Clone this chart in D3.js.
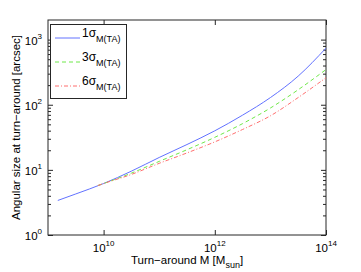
<!DOCTYPE html>
<html>
<head>
<meta charset="utf-8">
<script src="https://cdn.jsdelivr.net/npm/d3@7"></script>
<style>
  body { margin: 0; background: #fff; }
  svg { display: block; font-family: "Liberation Sans", Arial, sans-serif; }
</style>
</head>
<body>
<svg id="chart" width="361" height="272"></svg>
<script>
// turn-around mass [M_sun]
const massBlue = [1.5e9, 3.16e9, 1e10, 3.16e10, 1e11, 3.16e11, 1e12, 3.16e12, 1e13, 3.16e13, 1e14];
const massSig = [7.9e9, 1e10, 3.16e10, 1e11, 3.16e11, 1e12, 3.16e12, 1e13, 3.16e13, 1e14];
// angular size [arcsec]
const size1 = [3.39, 4.27, 6.17, 9.55, 15.5, 24.5, 39.8, 69.2, 128.8, 275, 741];
const size3 = [5.75, 6.17, 8.91, 13.5, 20.4, 31.6, 51.3, 89.1, 170, 347];
const size6 = [5.75, 6.17, 8.51, 12.6, 18.2, 26.9, 41.7, 67.6, 129, 260];
const xTicks = [1e10, 1e12, 1e14];
const yTicks = [1, 10, 100, 1000];
const legendNames = ["1σ", "3σ", "6σ"];

const W = 361, H = 272;
const m = { left: 48, right: 35, top: 20, bottom: 37 };
const svg = d3.select("#chart");

const x = d3.scaleLog().domain([1e9, 1e14]).range([m.left, W - m.right]);
const y = d3.scaleLog().domain([1, 2000]).range([H - m.bottom, m.top]);

const axisCol = "#262626";

// 軸の枠
svg.append("rect")
  .attr("x", m.left).attr("y", m.top)
  .attr("width", W - m.left - m.right).attr("height", H - m.top - m.bottom)
  .attr("fill", "none").attr("stroke", axisCol).attr("stroke-width", 1);

// 目盛り（内向き、上下左右）
const yMinor = [];
[1, 10, 100, 1000].forEach(d => { for (let k = 2; k <= 9; k++) if (d * k < 2000) yMinor.push(d * k); });

function tickAxis(axis, tx, ty) {
  const g = svg.append("g").attr("transform", `translate(${tx},${ty})`).call(axis);
  g.select(".domain").remove();
  g.selectAll("line").attr("stroke", axisCol);
  return g;
}
tickAxis(d3.axisBottom(x).tickValues(xTicks).tickSize(-5).tickFormat(""), 0, H - m.bottom);
tickAxis(d3.axisTop(x).tickValues(xTicks).tickSize(-5).tickFormat(""), 0, m.top);
tickAxis(d3.axisLeft(y).tickValues(yTicks).tickSize(-5).tickFormat(""), m.left, 0);
tickAxis(d3.axisRight(y).tickValues(yTicks).tickSize(-5).tickFormat(""), W - m.right, 0);
tickAxis(d3.axisLeft(y).tickValues(yMinor).tickSize(-3).tickFormat(""), m.left, 0);
tickAxis(d3.axisRight(y).tickValues(yMinor).tickSize(-3).tickFormat(""), W - m.right, 0);

// 目盛りラベル 10^n
function powLabel(g, v) {
  const e = Math.round(Math.log10(v));
  g.append("tspan").text("10");
  g.append("tspan").attr("dy", -6).attr("font-size", 8).text(e);
}
xTicks.forEach(v => {
  const t = svg.append("text").attr("x", x(v)).attr("y", H - m.bottom + 17)
    .attr("text-anchor", "middle").attr("font-size", 11.5).attr("fill", "#000");
  powLabel(t, v);
});
yTicks.forEach(v => {
  const t = svg.append("text").attr("x", m.left - 6).attr("y", y(v) + 5)
    .attr("text-anchor", "end").attr("font-size", 11.5).attr("fill", "#000");
  powLabel(t, v);
});

// 軸タイトル
const xl = svg.append("text").attr("x", 187).attr("y", 264)
  .attr("text-anchor", "middle").attr("font-size", 11.5).attr("fill", "#000");
xl.append("tspan").text("Turn\u2212around M [M");
xl.append("tspan").attr("dy", 4).attr("font-size", 9).text("sun");
xl.append("tspan").attr("dy", -4).text("]");

svg.append("text")
  .attr("transform", `translate(20,${(m.top + H - m.bottom) / 2}) rotate(-90)`)
  .attr("text-anchor", "middle").attr("font-size", 11.5).attr("fill", "#000")
  .text("Angular size at turn\u2212around [arcsec]");

// 曲線
const series = [
  { mass: massBlue, val: size1, color: "#6272ff", dash: null },
  { mass: massSig, val: size3, color: "#6fe84a", dash: "4,3" },
  { mass: massSig, val: size6, color: "#ff6f6f", dash: "4,2,1,2" }
];
const line = d3.line().x(d => x(d[0])).y(d => y(d[1])).curve(d3.curveMonotoneX);
series.forEach(s => {
  svg.append("path")
    .datum(s.mass.map((mv, i) => [mv, s.val[i]]))
    .attr("d", line)
    .attr("fill", "none")
    .attr("stroke", s.color)
    .attr("stroke-width", 1)
    .attr("stroke-dasharray", s.dash);
});

// 凡例
const lg = svg.append("g");
lg.append("rect").attr("x", 50.5).attr("y", 24.5).attr("width", 76).attr("height", 74)
  .attr("fill", "#fff").attr("stroke", axisCol).attr("stroke-width", 1);
series.forEach((s, i) => {
  const yy = 38 + i * 24;
  lg.append("line").attr("x1", 55).attr("x2", 80).attr("y1", yy).attr("y2", yy)
    .attr("stroke", s.color).attr("stroke-width", 1).attr("stroke-dasharray", s.dash);
  const t = lg.append("text").attr("x", 82).attr("y", yy - 1)
    .attr("font-size", 12).attr("fill", "#000");
  t.append("tspan").text(legendNames[i]);
  t.append("tspan").attr("dy", 5).attr("font-size", 9).text("M(TA)");
});
</script>
</body>
</html>
